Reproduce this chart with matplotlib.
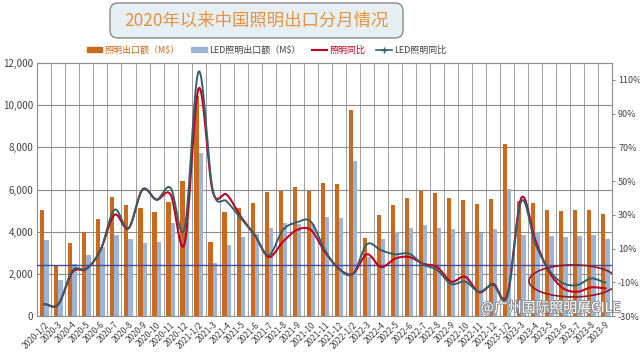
import numpy as np
import matplotlib
matplotlib.use('Agg')
import matplotlib.pyplot as plt
from matplotlib.patches import Patch, FancyBboxPatch, Ellipse
from matplotlib.lines import Line2D
import matplotlib.patheffects as pe

plt.rcParams['font.family'] = ['Noto Sans CJK SC', 'DejaVu Sans']

# DATA
months = ["2020-1/2", "2020-3", "2020-4", "2020-5", "2020-6", "2020-7", "2020-8", "2020-9",
          "2020-10", "2020-11", "2020-12",
          "2021-1/2", "2021-3", "2021-4", "2021-5", "2021-6", "2021-7", "2021-8", "2021-9",
          "2021-10", "2021-11", "2021-12",
          "2022-1/2", "2022-3", "2022-4", "2022-5", "2022-6", "2022-7", "2022-8", "2022-9",
          "2022-10", "2022-11", "2022-12",
          "2023-1/2", "2023-3", "2023-4", "2023-5", "2023-6", "2023-7", "2023-8", "2023-9"]

lighting_export = [5050, 2400, 3450, 3970, 4600, 5660, 5270, 5140, 4950, 5420, 6400,
                   10450, 3530, 4920, 5110, 5380, 5900, 5930, 6130, 5930, 6320, 6250,
                   9770, 3720, 4790, 5270, 5610, 5930, 5820, 5580, 5500, 5310, 5530,
                   8140, 5450, 5340, 5030, 5000, 5010, 5030, 4820]

led_export = [3600, 1710, 2450, 2890, 3290, 3840, 3650, 3450, 3530, 4400, 4480,
              7750, 2500, 3370, 3750, 3870, 4190, 4400, 4360, 4350, 4710, 4660,
              7350, 2800, 3640, 4000, 4160, 4320, 4190, 4130, 3920, 3920, 4110,
              6010, 3840, 4000, 3790, 3760, 3790, 3840, 3650]

lighting_yoy = [-23, -23, -4, -2, 9, 30, 22, 45, 39, 42, 13,
                105, 44, 42, 29, 18, 5, 14, 21, 21, 8, -2,
                -5, 6.6, -1, 4, 5, 1, -1, -9.6, -6.7, -16, -11,
                -17.6, 40, 15, -4, -13.6, -15.6, -13, -13.6]

led_yoy = [-23, -23, -3, -2, 9, 33, 22, 45, 39, 46, 22,
           115, 45, 38, 28, 18, 6, 21, 25.5, 26, 9, -2,
           -5, 12.5, 9, 6.6, 7, 0.6, -2.7, -11, -9.6, -15.6, -11.6,
           -18.5, 38, 13, -3, -10.6, -11.6, -7.7, -10.2]

ORANGE = '#C96A1F'
BLUE = '#9AB5D9'
RED = '#C0001F'
LEDLINE = '#35606A'


def smooth(x, y, n=16):
    # catmull-rom curve through the points, like excel's smoothed line
    y = np.asarray(y, dtype=float)
    p = np.r_[y[0], y, y[-1]]
    xs, ys = [], []
    t = np.linspace(0, 1, n, endpoint=False)
    for i in range(len(y) - 1):
        p0, p1, p2, p3 = p[i], p[i + 1], p[i + 2], p[i + 3]
        ys.append(0.5 * (2 * p1 + (-p0 + p2) * t + (2 * p0 - 5 * p1 + 4 * p2 - p3) * t ** 2
                         + (-p0 + 3 * p1 - 3 * p2 + p3) * t ** 3))
        xs.append(x[i] + t * (x[i + 1] - x[i]))
    xs.append([x[-1]])
    ys.append([y[-1]])
    return np.concatenate(xs), np.concatenate(ys)


fig = plt.figure(figsize=(6.4, 3.54), dpi=100)
ax = fig.add_axes([0.0583, 0.1073, 0.8987, 0.7147])
x = np.arange(len(months))
w = 0.3

ax.bar(x - w / 2, lighting_export, width=w, color=ORANGE, zorder=2)
ax.bar(x + w / 2, led_export, width=w, color=BLUE, zorder=2)

ax.set_xlim(-0.5, len(months) - 0.5)
ax.set_ylim(0, 12000)
ax.set_yticks(np.arange(0, 12001, 2000))
ax.set_yticklabels([f'{v:,}' for v in range(0, 12001, 2000)], fontsize=7, color='#404040')
ax.set_xticks(x)
ax.set_xticklabels(months, rotation=45, ha='right', rotation_mode='anchor', fontsize=6, color='#404040')
ax.set_xticks(np.arange(-0.5, len(months), 1), minor=True)
ax.tick_params(axis='both', which='both', length=0, pad=3)
ax.grid(axis='y', color='#8C8C8C', lw=0.8, zorder=0)
ax.grid(axis='x', which='minor', color='#A0A0A0', lw=0.7, zorder=0)
ax.set_axisbelow(True)
for s in ax.spines.values():
    s.set_color('#8C8C8C')
    s.set_linewidth(0.8)

ax2 = ax.twinx()
ax2.set_ylim(-30, 120)
ax2.set_yticks(np.arange(-30, 111, 20))
ax2.set_yticklabels([f'{v}%' for v in range(-30, 111, 20)], fontsize=6.5, color='#404040')
ax2.tick_params(axis='y', length=2, color='#8C8C8C', pad=2)
for s in ax2.spines.values():
    s.set_visible(False)
ax2.axhline(0, color='#4B4B9B', lw=1, zorder=1)

sx, sy = smooth(x, lighting_yoy)
ax2.plot(sx, sy, color=RED, lw=1.5, zorder=3)
sx, sy = smooth(x, led_yoy)
ax2.plot(sx, sy, color=LEDLINE, lw=1.4, zorder=4)

ax2.add_patch(Ellipse((37.7, -9.2), 6.3, 19, fill=False, ec='#8E1B2B', lw=1.2, zorder=5))

# title box
fig.patches.append(FancyBboxPatch((1.10, 3.16), 2.93, 0.35,
                                  boxstyle='round,pad=0,rounding_size=0.08',
                                  transform=fig.dpi_scale_trans, fc='#E6EFF3', ec='#8A8A8A', lw=1))
fig.text(0.401, 0.942, '2020年以来中国照明出口分月情况', ha='center', va='center',
         fontsize=12.5, color='#E8913F')

handles = [Patch(color=ORANGE), Patch(color=BLUE),
           Line2D([], [], color=RED, lw=1.5),
           Line2D([], [], color=LEDLINE, lw=1.2, marker='+', ms=4)]
labels = ['照明出口额（M$）', 'LED照明出口额（M$）', '照明同比', 'LED照明同比']
leg = fig.legend(handles, labels, loc='center', bbox_to_anchor=(0.417, 0.858), ncol=4,
                 frameon=False, fontsize=6.5, handlelength=1.7, handleheight=0.5,
                 columnspacing=1.2, handletextpad=0.3)
for t, c in zip(leg.get_texts(), ['#C96A1F', '#404040', RED, '#404040']):
    t.set_color(c)

# watermark
fig.text(0.86, 0.13, '@广州国际照明展GILE', ha='center', va='center', fontsize=10,
         color='white', path_effects=[pe.withStroke(linewidth=1.5, foreground='#909090')])

fig.savefig('out.png', dpi=100)
